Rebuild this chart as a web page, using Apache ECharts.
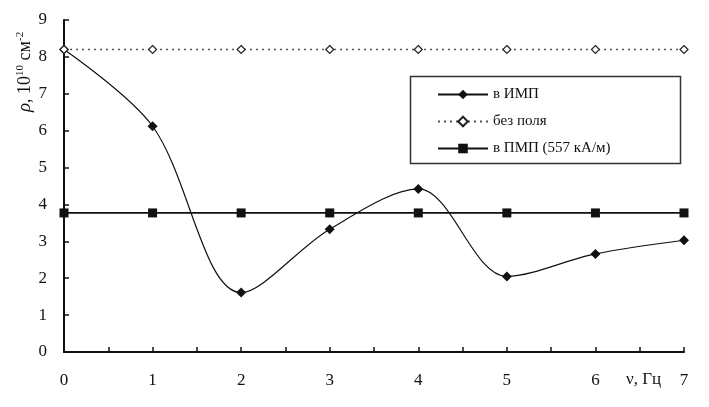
<!DOCTYPE html>
<html><head><meta charset="utf-8">
<script src="https://cdn.jsdelivr.net/npm/echarts@6/dist/echarts.min.js"></script>
<style>html,body{margin:0;padding:0;background:#fff}#c{width:709px;height:407px}</style>
</head><body><div id="c"></div>
<script>
var freq = [0, 1, 2, 3, 4, 5, 6, 7];
var imp = [8.2, 6.12, 1.61, 3.33, 4.42, 2.05, 2.66, 3.03];
var noField = [8.2, 8.2, 8.2, 8.2, 8.2, 8.2, 8.2, 8.2];
var pmp = [3.77, 3.77, 3.77, 3.77, 3.77, 3.77, 3.77, 3.77];
var names = ['в ИМП', 'без поля', 'в ПМП (557 кА/м)'];
function pairs(v){return freq.map(function(x,i){return [x, v[i]];});}
var font = 'Liberation Serif';
var chart = echarts.init(document.getElementById('c'));
chart.setOption({
  animation:false,
  textStyle:{fontFamily:font},
  grid:{left:64,right:25,top:20,bottom:55},
  xAxis:{type:'value',min:0,max:7,interval:0.5,
    axisLine:{lineStyle:{color:'#111',width:2}},
    axisTick:{inside:true,length:5,lineStyle:{color:'#111',width:1.5}},
    splitLine:{show:false},
    axisLabel:{margin:20,color:'#111',fontSize:17,fontFamily:font,
      formatter:function(v){return (Math.abs(v-Math.round(v))<1e-6)?String(Math.round(v)):'';}}
  },
  yAxis:{type:'value',min:0,max:9,interval:1,
    axisLine:{show:true,lineStyle:{color:'#111',width:2}},
    axisTick:{show:true,inside:true,length:5,lineStyle:{color:'#111',width:1.5}},
    splitLine:{show:false},
    axisLabel:{margin:17,color:'#111',fontSize:17,fontFamily:font}
  },
  legend:{orient:'vertical',left:432,top:82,itemWidth:50,itemHeight:12,itemGap:12,
    textStyle:{fontSize:15,color:'#111',fontFamily:font},data:names},
  graphic:[
    {type:'rect',left:408,top:74,shape:{width:270,height:87},style:{fill:'none',stroke:'#333',lineWidth:1.5}},
    {type:'text',left:626,top:371,style:{text:'ν, Гц',font:'17px "Liberation Serif"',fill:'#111'}},
    {type:'text',x:15,y:112,rotation:Math.PI/2,style:{
      text:'{i|ρ}, 10{s|10} см{s|-2}',fill:'#111',font:'18px "Liberation Serif"',
      rich:{i:{fontStyle:'italic',fontSize:19,fontFamily:font},s:{fontSize:11,verticalAlign:'top',padding:[0,0,9,0],fontFamily:font}}}}
  ],
  series:[
    {name:names[0],type:'line',data:pairs(imp),smooth:0.33,symbol:'diamond',symbolSize:10,
      lineStyle:{color:'#111',width:1.2},itemStyle:{color:'#111'},z:3},
    {name:names[1],type:'line',data:pairs(noField),symbol:'diamond',symbolSize:8,
      lineStyle:{color:'#555',width:1.6,type:[2,4]},itemStyle:{color:'#fff',borderColor:'#222',borderWidth:1.2}},
    {name:names[2],type:'line',data:pairs(pmp),symbol:'rect',symbolSize:9,
      lineStyle:{color:'#111',width:1.8},itemStyle:{color:'#111'}}
  ]
});
</script></body></html>
